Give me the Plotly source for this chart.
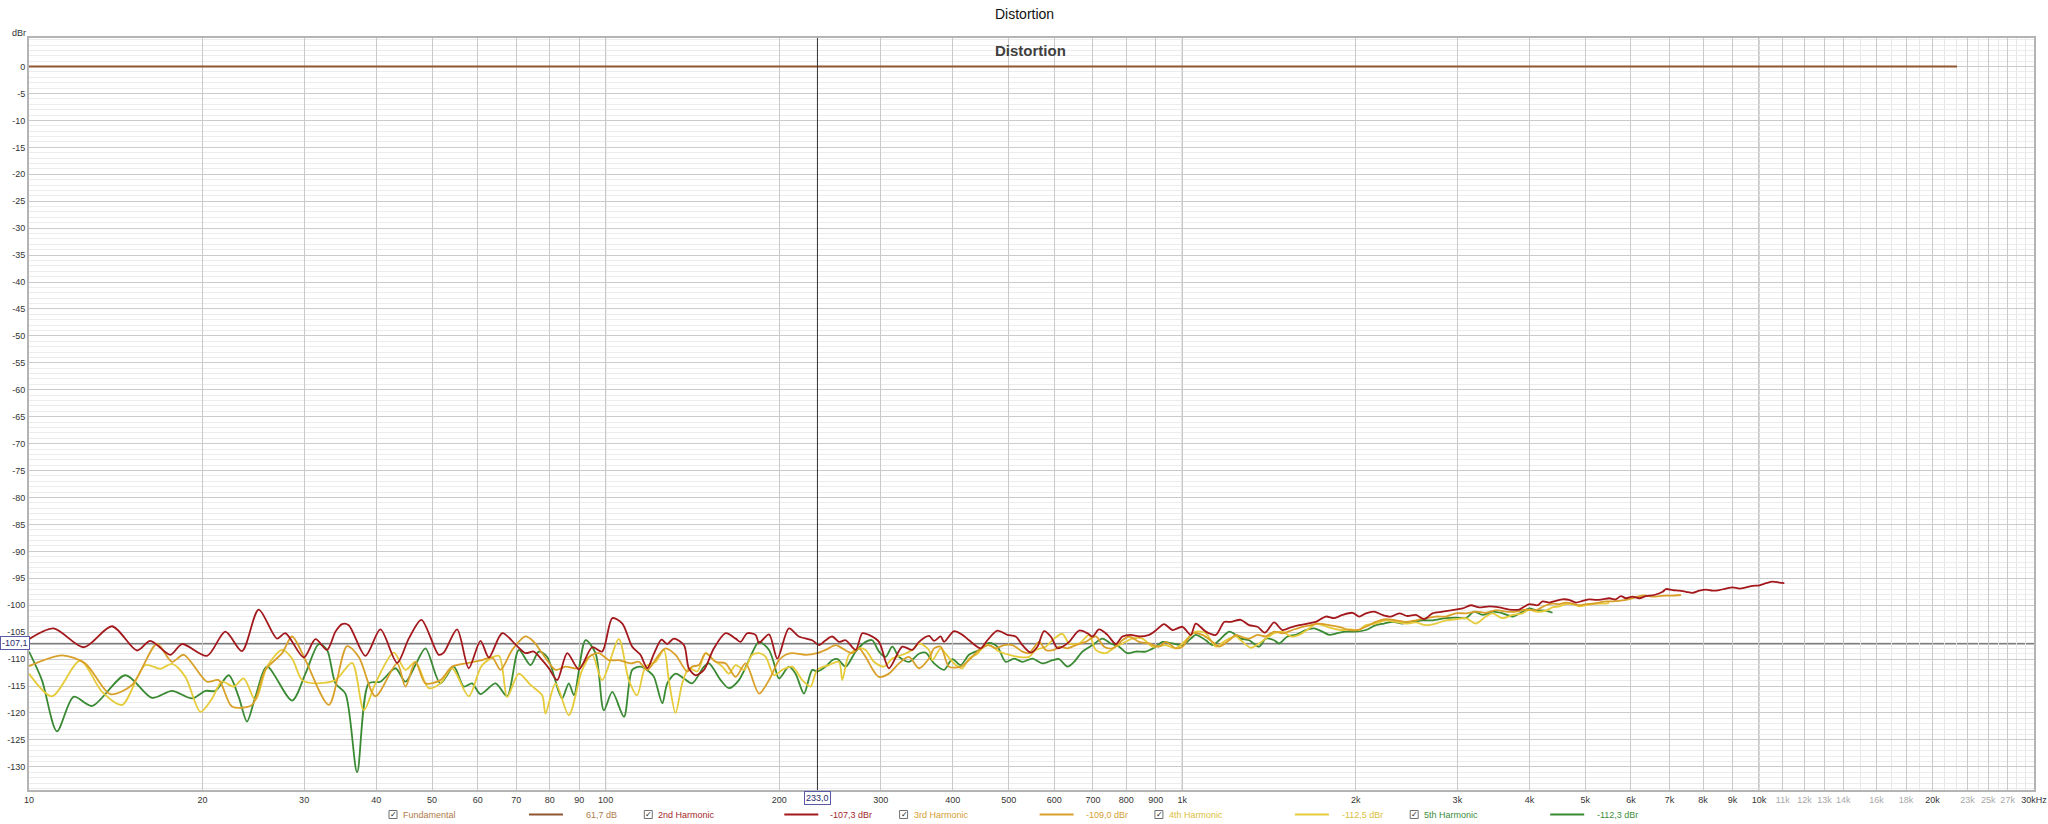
import math
import plotly.graph_objects as go

# ---------------- data ----------------
fund_freq = [10.0, 22060.0]
fund_db = [0.0, 0.0]

h2_freq = [10.0, 11.03, 12.44, 13.93, 15.39, 16.23, 17.59, 18.42, 20.36, 21.9, 23.41, 25.02, 26.92, 27.84, 29.96, 31.39, 32.88, 34.0,
           34.91, 35.85, 38.32, 40.68, 43.49, 45.56, 47.92, 51.35, 52.39, 55.26, 57.89, 60.67, 62.73, 66.17, 70.24, 72.61, 75.07, 77.62, 79.71, 82.41, 85.78, 89.87, 94.78, 98.63, 102.7, 106.9,
           111.2, 114.9, 118.1, 121.3, 125.0, 127.9, 131.3, 136.7, 139.4, 143.2, 148.1, 154.1, 161.5, 168.1, 171.4, 176.0, 182.0, 184.5, 192.0, 198.5, 207.9, 216.4, 228.2, 234.4, 240.7, 247.2, 253.9, 260.8, 271.4, 278.7, 286.2, 297.9, 310.0, 327.0, 340.3, 349.5, 363.8,
           371.2, 381.1, 386.3, 402.0, 415.6, 426.8, 447.2, 459.2, 477.9, 497.4, 514.2, 528.1, 546.0, 560.8, 575.9, 591.5, 607.5, 619.8, 636.5, 662.4, 684.9, 698.7, 717.4, 741.7, 766.8, 787.5, 814.2, 841.7, 876.0, 899.5, 930.0, 961.6, 1000.7, 1034.6, 1055.4, 1098.6, 1143.5, 1182.2, 1214.2,
           1263, 1306, 1350, 1392, 1443, 1492, 1543, 1595, 1649, 1704, 1774, 1834, 1896, 1974, 2027, 2082, 2151, 2225, 2300, 2378, 2459, 2542, 2628, 2716, 2828, 2943, 3063, 3166, 3273, 3407, 3546, 3690, 3840, 3997,
           4132, 4215, 4329, 4446, 4566, 4689, 4816, 4946, 5079, 5216, 5357, 5501, 5650, 5764, 5880, 6039, 6203, 6371, 6587, 6810, 6902, 7087, 7278, 7475, 7676, 7884, 8097, 8315, 8540, 8770, 9007, 9251, 9500, 9757, 10020, 10290, 10570, 10850, 11070]
h2_db = [-106.3, -104.3, -107.8, -103.9, -108.4, -106.6, -109.2, -107.2, -109.4, -104.9, -108.5, -100.8, -106.2, -105.2, -109.7, -106.3, -108.3, -104.9,
         -103.5, -103.7, -109.4, -104.5, -110.7, -106.2, -102.7, -109.2, -108.8, -104.5, -111.7, -106.6, -109.7, -105.2, -107.6, -108.9, -108.6, -110.2, -111.7, -113.9, -108.9, -111.9, -107.8, -108.6, -102.4, -103.4,
         -107.7, -109.2, -111.7, -109.0, -106.4, -107.2, -106.2, -107.4, -111.7, -113.0, -112.0, -108.0, -105.2, -106.2, -106.8, -105.2, -105.5, -107.0, -105.4, -109.9, -104.3, -105.8, -106.5, -107.4, -106.5, -105.8, -106.8, -106.5, -108.3, -105.2, -105.5, -106.8, -111.7, -107.7, -108.3, -106.8, -105.7,
         -106.6, -105.8, -106.8, -104.8, -105.5, -106.5, -108.0, -106.5, -104.7, -105.5, -105.8, -107.4, -108.8, -107.7, -104.8, -105.8, -108.0, -107.7, -106.8, -104.7, -105.2, -105.8, -104.5, -105.5, -107.2, -105.8, -105.5, -105.8, -105.5, -104.7, -103.5, -104.6, -104.0, -105.5, -103.4, -104.9, -105.5, -103.1, -103.1,
         -102.7, -103.7, -104.0, -105.1, -103.2, -104.6, -104.1, -103.7, -103.4, -103.1, -102.1, -102.4, -101.8, -101.4, -102.1, -101.5, -101.2, -101.8, -102.1, -101.5, -102.0, -101.8, -102.6, -101.5, -101.2, -100.9, -100.6, -100.0, -100.4, -100.2, -100.4, -100.8, -100.8, -99.8,
         -100.0, -99.3, -99.5, -99.2, -98.9, -99.0, -99.5, -99.2, -98.9, -99.0, -98.9, -98.7, -98.9, -98.3, -98.7, -98.4, -98.7, -98.3, -98.1, -97.5, -97.0, -97.2, -97.3, -97.5, -97.7, -97.3, -97.1, -97.3, -97.2, -96.9, -96.7, -96.9, -96.7, -96.4, -96.3, -95.9, -95.6, -95.8, -95.9]

h3_freq = [10.0, 11.41, 12.52, 13.84, 15.09, 16.67, 17.70, 18.55, 20.36, 21.33, 22.49, 24.36, 25.70, 27.47, 28.59, 30.16, 33.11,
           35.61, 37.32, 39.88, 43.49, 44.96, 46.79, 48.70, 51.69, 54.17, 57.89, 61.07, 63.57, 65.73, 68.85, 72.61, 75.07, 77.62, 81.87, 85.21, 89.87, 93.52, 97.34, 101.3, 105.4,
           110.5, 114.2, 118.1, 123.7, 127.0, 132.2, 138.5, 141.3, 145.1, 149.1, 155.1, 161.5, 168.1, 174.9, 184.5, 192.0, 199.8, 205.2, 210.7, 222.2, 232.8, 240.7, 250.6, 257.3, 267.8, 275.0, 282.4, 292.0, 297.9, 310.0, 322.7, 335.9, 349.5, 363.8,
           371.2, 381.1, 394.0, 412.8, 426.8, 444.2, 462.3, 474.8, 490.8, 507.4, 528.1, 542.4, 564.5, 579.8, 599.4, 611.6, 632.3, 653.7, 680.3, 707.9, 731.9, 756.7, 787.5, 808.8, 841.7, 876.0, 911.6, 936.3, 974.3, 1000.7, 1041.5, 1084.0, 1128.3, 1158.9, 1206.1, 1238.5,
           1263, 1306, 1350, 1396, 1443, 1492, 1553, 1616, 1671, 1727, 1798, 1871, 1948, 2013, 2082, 2166, 2255, 2346, 2442, 2542, 2645, 2753, 2866, 2982, 3104, 3230, 3362, 3499, 3641, 3789, 3944, 4105,
           4272, 4387, 4505, 4627, 4752, 4880, 5012, 5147, 5286, 5428, 5575, 5725, 5880, 6039, 6203, 6371, 6543, 6720, 6902, 7087, 7327]
h3_db = [-111.3, -109.3, -110.8, -116.5, -114.8, -107.2, -110.5, -109.2, -114.2, -113.9, -118.8, -118.5, -112.0, -108.9, -105.8, -110.2, -118.5,
         -107.6, -109.6, -116.9, -110.8, -115.1, -110.5, -114.5, -113.9, -111.4, -110.7, -110.2, -109.7, -112.0, -108.3, -105.8, -106.8, -108.9, -112.0, -111.4, -111.7, -109.6, -108.9, -110.2, -110.2,
         -110.8, -110.5, -112.0, -109.2, -108.0, -109.2, -112.3, -111.4, -111.1, -108.9, -110.5, -110.8, -113.3, -110.8, -116.4, -113.9, -110.2, -109.2, -108.9, -109.2, -108.9, -108.3, -107.4, -108.0, -108.9, -108.0, -109.6, -112.3, -113.3, -112.7, -110.8, -109.6, -111.7, -109.9,
         -108.0, -107.7, -111.4, -111.4, -110.2, -108.3, -107.4, -108.0, -107.4, -107.4, -108.6, -108.9, -106.8, -108.3, -108.3, -107.7, -108.0, -107.4, -106.8, -105.8, -107.7, -108.0, -106.5, -105.8, -106.8, -107.1, -107.7, -106.8, -108.0, -107.7, -105.2, -105.5, -106.8, -107.7, -106.5, -105.5,
         -105.8, -106.2, -105.5, -105.8, -104.9, -105.2, -104.6, -104.0, -103.7, -103.4, -103.7, -104.0, -104.6, -104.6, -104.0, -103.1, -102.6, -102.8, -103.1, -102.8, -102.4, -102.1, -102.1, -101.5, -101.5, -101.2, -101.4, -100.9, -101.2, -101.2, -100.8, -100.9,
         -100.0, -99.7, -99.8, -99.5, -99.7, -100.0, -99.8, -99.7, -99.5, -99.3, -99.3, -99.2, -99.0, -98.7, -98.3, -98.2, -98.4, -98.3, -98.2, -98.2, -98.1]

h4_freq = [10.0, 10.96, 12.27, 13.39, 14.50, 15.91, 16.89, 17.70, 18.67, 19.83, 20.77, 21.61, 22.65, 23.57, 24.69, 25.87, 27.47, 28.59, 29.76, 31.39,
           34.00, 36.33, 38.07, 39.88, 42.91, 44.96, 46.79, 49.34, 51.69, 54.17, 57.89, 61.07, 65.29, 67.49, 70.71, 74.08, 77.62, 78.65, 81.87, 86.35, 91.05, 94.78, 98.63, 105.4,
           109.7, 113.4, 117.3, 122.1, 126.2, 128.7, 132.2, 135.8, 139.4, 144.2, 149.1, 154.1, 159.4, 163.6, 168.1, 173.7, 179.6, 184.5, 189.5, 195.9, 202.5, 210.7, 219.3, 226.7, 232.8, 244.0, 253.9, 257.3, 264.2, 275.0, 282.4, 292.0, 303.9, 314.2, 327.0, 340.3, 349.5, 363.8,
           368.7, 381.1, 388.8, 404.6, 415.6, 426.8, 441.2, 456.2, 468.5, 481.1, 500.7, 521.1, 542.4, 557.0, 579.8, 599.4, 619.8, 636.5, 662.4, 689.5, 707.9, 736.8, 766.8, 787.5, 819.6, 852.9, 887.8, 936.3, 974.3, 1014.1, 1055.4, 1098.6, 1143.5, 1190.1, 1238.5,
           1263, 1315, 1359, 1396, 1443, 1492, 1543, 1595, 1660, 1704, 1750, 1822, 1884, 1960, 2027, 2082, 2166, 2255, 2346, 2442, 2542, 2645, 2753, 2866, 2982, 3104, 3230, 3362, 3452, 3593, 3739, 3892, 3997, 4105,
           4272, 4387, 4505, 4627, 4752, 4880, 5012, 5147, 5286, 5428, 5501]
h4_db = [-112.7, -116.9, -110.3, -116.1, -118.5, -111.1, -111.8, -110.9, -113.3, -119.8, -117.3, -114.2, -115.1, -113.6, -117.6, -111.4, -108.3, -109.9, -113.9, -114.5,
         -113.9, -110.7, -119.5, -114.5, -108.8, -112.0, -110.5, -115.4, -114.5, -111.7, -116.9, -111.1, -109.4, -117.0, -112.7, -114.8, -116.7, -120.1, -114.5, -120.4, -112.0, -109.2, -113.9, -106.3,
         -113.9, -116.7, -111.4, -110.5, -108.3, -113.9, -120.0, -114.5, -111.7, -112.3, -108.9, -110.2, -111.4, -112.7, -111.1, -112.0, -109.2, -108.9, -109.6, -113.0, -112.0, -111.4, -113.9, -115.1, -112.0, -111.1, -110.5, -113.9, -109.2, -108.0, -108.3, -110.5, -111.4, -109.9, -109.2, -108.3, -107.1, -108.3,
         -110.2, -108.0, -109.0, -111.1, -111.7, -109.9, -109.0, -107.4, -107.7, -108.6, -109.2, -109.6, -109.6, -108.3, -107.7, -106.2, -105.3, -107.1, -107.1, -105.5, -108.3, -108.9, -107.7, -107.1, -106.2, -106.2, -107.7, -107.4, -108.0, -106.5, -104.9, -105.2, -107.7, -106.5, -105.8,
         -106.5, -107.9, -107.1, -106.2, -105.2, -104.9, -105.8, -105.5, -104.3, -103.4, -103.7, -104.3, -104.6, -104.5, -104.6, -103.7, -103.4, -102.8, -103.1, -103.4, -103.2, -103.7, -103.4, -102.8, -102.6, -102.4, -103.4, -102.1, -101.5, -102.4, -101.8, -101.5, -100.8, -101.2,
         -101.0, -100.4, -100.2, -99.8, -99.8, -100.2, -100.0, -99.8, -99.7, -99.7, -99.5]

h5_freq = [10.0, 10.53, 11.18, 11.95, 12.86, 14.70, 16.34, 17.70, 19.18, 20.23, 21.05, 22.20, 23.10, 23.88, 24.69, 25.87, 28.59, 30.16, 31.81, 32.88, 34.00,
           35.38, 37.07, 38.83, 40.68, 43.20, 44.96, 46.79, 48.70, 51.69, 54.53, 56.75, 58.66, 60.67, 64.42, 67.49, 70.71, 74.08, 76.58, 79.18, 82.97, 84.08, 86.35, 88.10, 92.29, 96.05, 99.29, 102.7, 107.6,
           111.2, 114.9, 118.9, 121.3, 125.4, 127.9, 132.2, 136.7, 141.3, 148.1, 151.1, 158.3, 163.6, 170.3, 177.2, 184.5, 192.0, 195.9, 199.8, 207.9, 213.5, 220.8, 228.2, 232.8, 240.7, 247.2, 252.3, 260.8, 271.4, 282.4, 290.0, 297.9, 305.9, 314.2, 322.7, 335.9, 349.5,
           358.9, 371.2, 386.3, 399.3, 412.8, 426.8, 444.2, 462.3, 477.9, 494.1, 510.7, 528.1, 549.7, 572.1, 595.5, 611.6, 632.3, 649.3, 671.3, 698.7, 727.0, 751.7, 777.1, 803.4, 830.6, 864.4, 899.5, 923.8, 961.6, 1000.7, 1034.6, 1055.4, 1098.6, 1128.3, 1158.9, 1206.1, 1238.5,
           1263, 1306, 1359, 1396, 1443, 1472, 1522, 1574, 1638, 1693, 1750, 1798, 1858, 1922, 2000, 2082, 2166, 2240, 2315, 2410, 2508, 2610, 2716, 2866, 2982, 3104, 3208, 3317, 3452, 3593, 3739, 3892, 3997, 4105,
           4272, 4387]
h5_db = [-108.6, -113.9, -123.4, -117.0, -118.7, -113.0, -117.2, -115.9, -117.3, -115.9, -115.9, -113.0, -117.0, -121.6, -117.0, -111.4, -117.7, -112.7, -107.2, -108.3, -114.5,
         -116.4, -131.0, -114.5, -114.2, -111.7, -114.2, -111.1, -108.0, -114.5, -111.4, -115.1, -114.5, -116.5, -114.5, -116.9, -108.3, -111.1, -108.6, -109.6, -116.1, -117.3, -114.5, -116.7, -106.5, -108.9, -119.5, -116.1, -120.7,
         -112.0, -111.4, -112.3, -113.3, -118.2, -114.5, -112.7, -113.6, -114.5, -111.4, -110.8, -113.9, -115.4, -113.9, -110.2, -106.8, -108.3, -110.8, -113.6, -111.4, -112.7, -116.4, -112.0, -112.3, -111.4, -110.2, -110.0, -111.4, -108.6, -106.8, -106.5, -108.6, -109.6, -107.7, -109.6, -110.5, -109.0,
         -108.8, -110.8, -112.0, -110.0, -111.1, -109.2, -108.3, -107.0, -107.7, -110.5, -109.9, -110.5, -109.9, -110.8, -110.2, -110.0, -111.4, -110.5, -108.6, -107.4, -106.2, -107.1, -107.7, -108.9, -108.6, -108.6, -107.7, -106.8, -107.1, -107.4, -106.2, -105.5, -106.5, -107.4, -106.5, -104.9, -105.5,
         -106.2, -106.5, -107.7, -106.2, -106.5, -107.1, -105.8, -105.5, -104.6, -104.3, -104.9, -105.5, -105.2, -104.9, -104.9, -104.6, -103.7, -103.4, -103.1, -103.4, -103.1, -102.8, -102.8, -102.4, -102.3, -102.4, -101.2, -101.8, -101.2, -101.5, -102.1, -101.2, -100.6, -100.9,
         -101.0, -101.4]

series_names = ["Fundamental", "2nd Harmonic", "3rd Harmonic", "4th Harmonic", "5th Harmonic"]
series_values = ["61,7 dB", "-107,3 dBr", "-109,0 dBr", "-112,5 dBr", "-112,3 dBr"]
series_colors = ["#8f5630", "#a3181c", "#d9a02a", "#e6cb3a", "#3a8a34"]
legend_text_colors = ["#b07a48", "#a3282a", "#d4a034", "#dcc040", "#3c8c3c"]

cursor_freq = 233.0
cursor_db = -107.1
cursor_freq_label = "233,0"
cursor_db_label = "-107,1"

x_tickvals = [10, 20, 30, 40, 50, 60, 70, 80, 90, 100, 200, 300, 400, 500, 600, 700, 800, 900,
              1000, 2000, 3000, 4000, 5000, 6000, 7000, 8000, 9000, 10000, 11000, 12000, 13000, 14000,
              16000, 18000, 20000, 23000, 25000, 27000, 30000]
x_ticklabels = ["10", "20", "30", "40", "50", "60", "70", "80", "90", "100", "200", "300", "400", "500",
                "600", "700", "800", "900", "1k", "2k", "3k", "4k", "5k", "6k", "7k", "8k", "9k", "10k",
                "11k", "12k", "13k", "14k", "16k", "18k", "20k", "23k", "25k", "27k", "30kHz"]
x_faded_labels = ["11k", "12k", "13k", "14k", "16k", "18k", "23k", "25k", "27k"]
x_minor_vals = [15000, 17000, 19000, 21000, 22000, 24000, 26000, 28000, 29000]
x_decades = [100, 1000, 10000]
y_tickvals = list(range(0, -131, -5))
y_ticklabels = [str(v) for v in y_tickvals]

# ---------------- geometry (pixels of the 2048x824 page) ----------------
W, H = 2048, 824
L, R, T, B = 29, 2034, 38, 790
FONT = "Liberation Sans, Arial, sans-serif"


def px(x):
    return (x - L) / (R - L)


def py(y):
    return (B - y) / (B - T)


fig = go.Figure()
all_series = [(fund_freq, fund_db), (h5_freq, h5_db), (h4_freq, h4_db), (h3_freq, h3_db), (h2_freq, h2_db)]
order = [0, 4, 3, 2, 1]
for (fx, fy), idx in zip(all_series, order):
    fig.add_trace(go.Scatter(
        x=fx, y=fy, mode="lines", name=series_names[idx],
        line=dict(color=series_colors[idx], width=2 if idx == 0 else 1.8,
                  shape="linear" if idx == 0 else "spline", smoothing=0.8),
        hoverinfo="skip", showlegend=False))

x_ticktext = [('<span style="color:#a8a8a8">%s</span>' % t) if t in x_faded_labels else t for t in x_ticklabels]

fig.update_xaxes(
    type="log", range=[1, math.log10(30000)], automargin=False,
    tickmode="array", tickvals=x_tickvals, ticktext=x_ticktext,
    showgrid=True, gridcolor="#c9c9c9", gridwidth=1,
    minor=dict(tickmode="array", tickvals=x_minor_vals, showgrid=True, gridcolor="#e6e6e6", ticks=""),
    ticks="", tickfont=dict(family=FONT, size=9, color="#333333"),
    showline=True, linecolor="#b4b4b4", linewidth=2, mirror=True, zeroline=False,
)
fig.update_yaxes(
    range=[-134.3, 5.3], automargin=False,
    tickmode="array", tickvals=y_tickvals, ticktext=y_ticklabels,
    showgrid=True, gridcolor="#cbcbcb", gridwidth=1,
    minor=dict(dtick=1, showgrid=True, gridcolor="#ececec", ticks=""),
    ticks="", tickfont=dict(family=FONT, size=9, color="#333333"),
    showline=True, linecolor="#b4b4b4", linewidth=2, mirror=True, zeroline=False,
)

shapes = []
for d in x_decades:
    shapes.append(dict(type="line", xref="x", yref="paper", x0=d, x1=d, y0=0, y1=1,
                       line=dict(color="#909090", width=1), layer="between"))
# cursor lines
shapes.append(dict(type="line", xref="paper", yref="y", x0=0, x1=1, y0=cursor_db, y1=cursor_db,
                   line=dict(color="#7c7c7c", width=2), layer="between"))
shapes.append(dict(type="line", xref="x", yref="paper", x0=cursor_freq, x1=cursor_freq, y0=0, y1=1,
                   line=dict(color="#303030", width=1), layer="above"))

annotations = [
    dict(text="Distortion", xref="paper", yref="paper", x=px(1024), y=py(14), showarrow=False,
         font=dict(family=FONT, size=14, color="#111111"), xanchor="center", yanchor="middle"),
    dict(text="<b>Distortion</b>", xref="paper", yref="paper", x=px(1030), y=py(50), showarrow=False,
         font=dict(family=FONT, size=15, color="#404040"), xanchor="center", yanchor="middle"),
    dict(text="dBr", xref="paper", yref="paper", x=px(19), y=py(33), showarrow=False,
         font=dict(family=FONT, size=9, color="#333333"), xanchor="center", yanchor="middle"),
    dict(text=cursor_db_label, xref="paper", yref="y", x=px(15), y=cursor_db, showarrow=False,
         font=dict(family=FONT, size=9, color="#2a2a6a"), xanchor="center", yanchor="middle",
         bgcolor="#ffffff", bordercolor="#5a5aa8", borderwidth=1, borderpad=1),
    dict(text=cursor_freq_label, xref="x", yref="paper", x=math.log10(cursor_freq), y=py(797.5), showarrow=False,
         font=dict(family=FONT, size=9, color="#2a2a6a"), xanchor="center", yanchor="middle",
         bgcolor="#ffffff", bordercolor="#5a5aa8", borderwidth=1, borderpad=1),
]

# legend row
legend_y = 814.5
for i, (name, val) in enumerate(zip(series_names, series_values)):
    base = 393 + 255.3 * i
    shapes.append(dict(type="rect", xref="paper", yref="paper",
                       x0=px(base - 4), x1=px(base + 4), y0=py(legend_y + 4), y1=py(legend_y - 4),
                       line=dict(color="#707070", width=1), fillcolor="#ffffff", layer="above"))
    annotations.append(dict(text="✓", xref="paper", yref="paper", x=px(base + 0.5), y=py(legend_y), showarrow=False,
                            font=dict(family="DejaVu Sans", size=8, color="#222222"), xanchor="center", yanchor="middle"))
    annotations.append(dict(text=name, xref="paper", yref="paper", x=px(base + 8), y=py(legend_y), showarrow=False,
                            font=dict(family=FONT, size=9, color=legend_text_colors[i]), xanchor="left", yanchor="middle"))
    shapes.append(dict(type="line", xref="paper", yref="paper", x0=px(base + 136), x1=px(base + 170),
                       y0=py(legend_y), y1=py(legend_y), line=dict(color=series_colors[i], width=2), layer="above"))
    annotations.append(dict(text=val, xref="paper", yref="paper", x=px(base + 226), y=py(legend_y), showarrow=False,
                            font=dict(family=FONT, size=9, color=legend_text_colors[i]), xanchor="right", yanchor="middle"))

fig.update_layout(
    width=W, height=H,
    margin=dict(l=L, r=W - R, t=T, b=H - B, pad=0),
    plot_bgcolor="#ffffff", paper_bgcolor="#ffffff",
    shapes=shapes, annotations=annotations,
    showlegend=False,
    font=dict(family=FONT, size=9, color="#333333"),
)

fig.write_html("out.html", config={"displayModeBar": False},
               post_script="document.body.style.margin='0';document.body.style.overflow='hidden';")
